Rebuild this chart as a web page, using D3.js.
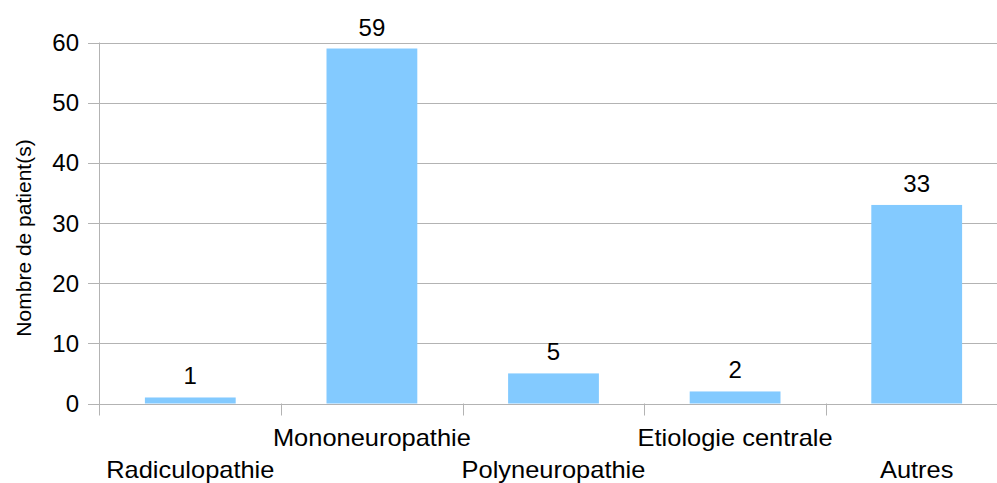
<!DOCTYPE html>
<html>
<head>
<meta charset="utf-8">
<script src="https://d3js.org/d3.v7.min.js"></script>
<style>
  body { margin: 0px; background: #ffffff; }
  svg { display: block; font-family: "Liberation Sans", Arial, sans-serif; }
  .grid line { stroke: #b3b3b3; stroke-width: 1px; }
  .ylab { font-size: 24px; fill: #000; text-anchor: end; }
  .val { font-size: 24px; fill: #000; text-anchor: middle; }
  .cat { font-size: 24px; fill: #000; text-anchor: middle; }
  .title { font-size: 21px; fill: #000; text-anchor: middle; }
</style>
</head>
<body>
<svg id="chart" width="997" height="483"></svg>
<script>
// data
var categories = ["Radiculopathie", "Mononeuropathie", "Polyneuropathie", "Etiologie centrale", "Autres"];
var values = [1, 59, 5, 2, 33];
var yTicks = [0, 10, 20, 30, 40, 50, 60];
var yTitle = "Nombre de patient(s)";

var svg = d3.select("#chart"),
    W = +svg.attr("width"),
    plotLeft = 99.5, plotRight = 1007.5,
    plotTop = 42.5, plotBottom = 403.5;

var x = d3.scaleBand()
    .domain(categories)
    .range([plotLeft, plotRight])
    .paddingInner(0.5)
    .paddingOuter(0.25);

var y = d3.scaleLinear()
    .domain([0, 60])
    .range([plotBottom, plotTop]);

// horizontal gridlines + left tick marks
var grid = svg.append("g").attr("class", "grid");
grid.selectAll("line.h")
  .data(yTicks)
  .enter().append("line")
    .attr("class", "h")
    .attr("x1", 88)
    .attr("x2", W)
    .attr("y1", function(d) { return Math.round(y(d)) + 0.5; })
    .attr("y2", function(d) { return Math.round(y(d)) + 0.5; });

// y axis line
grid.append("line")
    .attr("x1", plotLeft).attr("x2", plotLeft)
    .attr("y1", y(60)).attr("y2", plotBottom + 12);

// category separators below the axis
var step = x.step();
grid.selectAll("line.sep")
  .data(categories.slice(1))
  .enter().append("line")
    .attr("class", "sep")
    .attr("x1", function(d) { return Math.round(x(d) - step * 0.25) + 0.5; })
    .attr("x2", function(d) { return Math.round(x(d) - step * 0.25) + 0.5; })
    .attr("y1", plotBottom)
    .attr("y2", plotBottom + 12);

// bars
svg.append("g").selectAll("rect")
  .data(values)
  .enter().append("rect")
    .attr("x", function(d, i) { return x(categories[i]); })
    .attr("y", function(d) { return y(d); })
    .attr("width", x.bandwidth())
    .attr("height", function(d) { return plotBottom - y(d); })
    .style("fill", "#83caff");

// value labels
svg.append("g").selectAll("text")
  .data(values)
  .enter().append("text")
    .attr("class", "val")
    .attr("x", function(d, i) { return x(categories[i]) + x.bandwidth() / 2; })
    .attr("y", function(d) { return y(d) - 13; })
    .text(function(d) { return d; });

// y tick labels
svg.append("g").selectAll("text")
  .data(yTicks)
  .enter().append("text")
    .attr("class", "ylab")
    .attr("x", 79)
    .attr("y", function(d) { return y(d) + 8.5; })
    .text(function(d) { return d; });

// category labels, staggered
svg.append("g").selectAll("text")
  .data(categories)
  .enter().append("text")
    .attr("class", "cat")
    .attr("transform", function(d, i) {
      var cx = x(d) + x.bandwidth() / 2;
      var cy = i % 2 === 0 ? 478 : 446;
      return "translate(" + cx + "," + cy + ") scale(1.06,1)";
    })
    .text(function(d) { return d; });

// y title
svg.append("text")
    .attr("class", "title")
    .attr("transform", "translate(31,238) rotate(-90)")
    .text(yTitle);
</script>
</body>
</html>
